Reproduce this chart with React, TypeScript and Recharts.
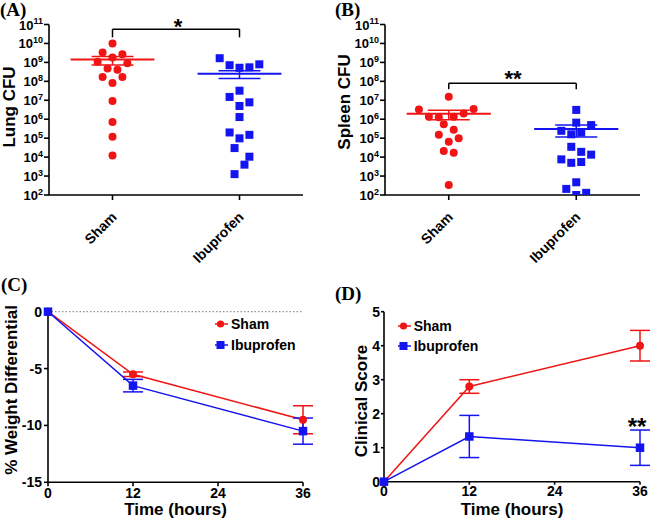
import {
  ScatterChart,
  Scatter,
  LineChart,
  Line,
  XAxis,
  YAxis,
  ReferenceLine,
  ErrorBar,
  Legend,
} from "recharts"

const RED = "#f01414"
const BLUE = "#1414f0"
const FONT = "'Liberation Sans', Arial, Helvetica, sans-serif"

const groups = ["Sham", "Ibuprofen"]

// (A) lung CFU, one value per mouse; spread = column offset used by the dot plot
const lungSham = [1e10, 3.3e9, 2.7e9, 1.8e9, 1.07e9, 8.9e8, 4.8e8, 4.1e8, 1.7e8, 1.7e8, 8.1e7, 9.1e6, 7.1e5, 1.2e5, 1.2e4]
const lungShamSpread = [0, -2, 2, 0, -3, 3, -1, 1, -2, 2, 0, 0, 0, 0, 0]
const lungIbu = [1.66e9, 7.1e8, 5.2e8, 5.5e8, 7.9e8, 3.2e7, 1.5e7, 7.8e6, 5e6, 1.3e6, 2e5, 9.8e4, 1.5e5, 3e4, 1.05e4, 4e3, 1.26e3]
const lungIbuSpread = [-4, -2, 0, 2, 4, 0, -2, 2, 0, 0, -2, 0, 2, -1, 2, 1, -1]

// (B) spleen CFU
const spleenSham = [1.55e7, 3.3e6, 3.5e6, 1.35e6, 1.26e6, 1.35e6, 2e6, 5.4e5, 2.8e5, 1.5e5, 9.8e4, 6.5e4, 2.1e4, 1.7e4, 340]
const spleenShamSpread = [0, -6, 5, -4, -2, 1, 3, -1, 1, -2, 2, 0, -1, 1, 0]
const spleenIbu = [3.1e6, 6.6e5, 4.9e5, 2.45e5, 1.6e5, 2e5, 3.5e4, 1.9e4, 1.35e4, 7.6e3, 5e3, 5.5e3, 470, 210, 130, 100]
const spleenIbuSpread = [0, 0, 3, -3, -1, 1, -1, 1, 3, -3, -1, 1, 0, -2, 2, 0]

const cfuTicks = [1e2, 1e3, 1e4, 1e5, 1e6, 1e7, 1e8, 1e9, 1e10, 1e11]

// (C) weight change and (D) clinical score, mean +/- SEM
const hours = [0, 12, 36]
const hourTicks = [0, 12, 24, 36]
const weightSham = [0, -5.5, -9.5]
const weightShamErr = [0, 0.2, 1.23]
const weightIbu = [0, -6.5, -10.5]
const weightIbuErr = [0, 0.55, 1.15]
const scoreSham = [0, 2.8, 4.0]
const scoreShamErr = [0, 0.2, 0.45]
const scoreIbu = [0, 1.33, 1.0]
const scoreIbuErr = [0, 0.62, 0.52]

const LANE = 0.039

const mean = (a: number[]) => a.reduce((s, v) => s + v, 0) / a.length
const sem = (a: number[]) => {
  const m = mean(a)
  const sd = Math.sqrt(a.reduce((s, v) => s + (v - m) ** 2, 0) / (a.length - 1))
  return sd / Math.sqrt(a.length)
}

const toPoints = (values: number[], spread: number[], g: number) =>
  values.map((v, i) => ({ x: g + 0.5 + spread[i] * LANE, y: v }))

const axisStyle = { stroke: "#000", strokeWidth: 1.6 }

const PowerTick = ({ x, y, payload }: any) => (
  <text x={x} y={y + 5} textAnchor="end" fontSize={13} fontWeight="bold" fontFamily={FONT} fill="#000">
    10
    <tspan dy={-5.5} fontSize={9}>
      {Math.round(Math.log10(payload.value))}
    </tspan>
  </text>
)

const GroupTick = ({ x, y, payload }: any) => (
  <text
    transform={`translate(${x + 5},${y + 16}) rotate(-45)`}
    textAnchor="end"
    fontSize={14}
    fontWeight="bold"
    fontFamily={FONT}
    fill="#000"
  >
    {groups[Math.floor(payload.value)]}
  </text>
)

function semLines(values: number[], g: number, color: string) {
  const m = mean(values)
  const s = sem(values)
  const c = g + 0.5
  return [
    <ReferenceLine key={`m${g}`} segment={[{ x: c - 0.33, y: m }, { x: c + 0.33, y: m }]} stroke={color} strokeWidth={2} />,
    <ReferenceLine key={`u${g}`} segment={[{ x: c - 0.165, y: m + s }, { x: c + 0.165, y: m + s }]} stroke={color} strokeWidth={1.5} />,
    <ReferenceLine key={`l${g}`} segment={[{ x: c - 0.165, y: m - s }, { x: c + 0.165, y: m - s }]} stroke={color} strokeWidth={1.5} />,
    <ReferenceLine key={`v${g}`} segment={[{ x: c, y: m - s }, { x: c, y: m + s }]} stroke={color} strokeWidth={1.5} />,
  ]
}

function bracket(top: number, foot: number) {
  return [
    <ReferenceLine key="bt" segment={[{ x: 0.5, y: top }, { x: 1.5, y: top }]} stroke="#000" strokeWidth={1.5} />,
    <ReferenceLine key="bl" segment={[{ x: 0.5, y: top }, { x: 0.5, y: foot }]} stroke="#000" strokeWidth={1.5} />,
    <ReferenceLine key="br" segment={[{ x: 1.5, y: top }, { x: 1.5, y: foot }]} stroke="#000" strokeWidth={1.5} />,
  ]
}

interface CfuProps {
  sham: number[]
  shamSpread: number[]
  ibu: number[]
  ibuSpread: number[]
  bracketTop: number
  bracketFoot: number
  width: number
  right: number
}

function CfuPlot({ sham, shamSpread, ibu, ibuSpread, bracketTop, bracketFoot, width, right }: CfuProps) {
  return (
    <ScatterChart width={width} height={270} margin={{ top: 24.5, right, bottom: 0, left: 0 }}>
      <XAxis
        type="number"
        dataKey="x"
        domain={[0, 2]}
        ticks={[0.5, 1.5]}
        interval={0}
        height={75}
        axisLine={axisStyle}
        tickLine={axisStyle}
        tickSize={5}
        tick={<GroupTick />}
      />
      <YAxis
        type="number"
        dataKey="y"
        scale="log"
        domain={[1e2, 1e11]}
        ticks={cfuTicks}
        interval={0}
        allowDataOverflow
        width={49}
        axisLine={axisStyle}
        tickLine={axisStyle}
        tickSize={5}
        tickMargin={1}
        tick={<PowerTick />}
      />
      <Scatter
        data={toPoints(sham, shamSpread, 0)}
        isAnimationActive={false}
        shape={(p: any) => <circle cx={p.cx} cy={p.cy} r={4} fill={RED} />}
      />
      <Scatter
        data={toPoints(ibu, ibuSpread, 1)}
        isAnimationActive={false}
        shape={(p: any) => <rect x={p.cx - 4} y={p.cy - 4} width={8} height={8} fill={BLUE} />}
      />
      {semLines(sham, 0, RED)}
      {semLines(ibu, 1, BLUE)}
      {bracket(bracketTop, bracketFoot)}
    </ScatterChart>
  )
}

const SeriesLegend = () => (
  <div style={{ fontFamily: FONT, fontWeight: "bold", fontSize: 14, lineHeight: "20.5px", color: "#000" }}>
    <div style={{ display: "flex", alignItems: "center" }}>
      <svg width={16} height={20}>
        <line x1={0} y1={10} x2={13} y2={10} stroke={RED} strokeWidth={1.5} />
        <circle cx={5.5} cy={10} r={3.6} fill={RED} />
      </svg>
      <span>Sham</span>
    </div>
    <div style={{ display: "flex", alignItems: "center" }}>
      <svg width={16} height={20}>
        <line x1={0} y1={10} x2={13} y2={10} stroke={BLUE} strokeWidth={1.5} />
        <rect x={1.5} y={6} width={8} height={8} fill={BLUE} />
      </svg>
      <span>Ibuprofen</span>
    </div>
  </div>
)

const shamDot = (p: any) => <circle key={`s${p.index}`} cx={p.cx} cy={p.cy} r={4} fill={RED} />
const ibuDot = (p: any) => <rect key={`i${p.index}`} x={p.cx - 4.25} y={p.cy - 4.25} width={8.5} height={8.5} fill={BLUE} />

const weightRows = hours.map((h, i) => ({
  h,
  sham: weightSham[i],
  shamErr: weightShamErr[i],
  ibu: weightIbu[i],
  ibuErr: weightIbuErr[i],
}))

const scoreRows = hours.map((h, i) => ({
  h,
  sham: scoreSham[i],
  shamErr: scoreShamErr[i],
  ibu: scoreIbu[i],
  ibuErr: scoreIbuErr[i],
}))

const tickFont = { fill: "#000", fontSize: 14, fontWeight: "bold", fontFamily: FONT }

const label = { fontFamily: FONT, fontWeight: "bold", fontSize: 17, fill: "#000" } as const
const panelTag = { fontFamily: "'Liberation Serif', 'Times New Roman', serif", fontWeight: "bold", fontSize: 19, fill: "#000" } as const
const star = { fontFamily: FONT, fontWeight: "bold", fontSize: 22, fill: "#000", textAnchor: "middle" } as const

export default function App() {
  return (
    <div style={{ position: "absolute", left: 0, top: 0, width: 650, height: 525, background: "#fff", overflow: "hidden" }}>
      <div style={{ position: "absolute", left: 0, top: 0 }}>
        <CfuPlot
          sham={lungSham}
          shamSpread={lungShamSpread}
          ibu={lungIbu}
          ibuSpread={lungIbuSpread}
          bracketTop={5.6e10}
          bracketFoot={2.1e10}
          width={320}
          right={17}
        />
      </div>
      <div style={{ position: "absolute", left: 336, top: 0 }}>
        <CfuPlot
          sham={spleenSham}
          shamSpread={spleenShamSpread}
          ibu={spleenIbu}
          ibuSpread={spleenIbuSpread}
          bracketTop={7.9e7}
          bracketFoot={3.8e7}
          width={314}
          right={10}
        />
      </div>

      <div style={{ position: "absolute", left: 0, top: 270 }}>
        <LineChart width={320} height={255} data={weightRows} margin={{ top: 41.7, right: 17, bottom: 0, left: 0 }}>
          <XAxis
            type="number"
            dataKey="h"
            domain={[0, 36]}
            ticks={hourTicks}
            interval={0}
            height={42.7}
            axisLine={axisStyle}
            tickLine={axisStyle}
            tickSize={4}
            tickMargin={2}
            tick={tickFont}
          />
          <YAxis
            type="number"
            domain={[-15, 0]}
            ticks={[-15, -10, -5, 0]}
            interval={0}
            width={48}
            axisLine={axisStyle}
            tickLine={axisStyle}
            tickSize={4}
            tickMargin={2}
            tick={tickFont}
          />
          <ReferenceLine y={0} stroke="#777" strokeDasharray="1.5 2" strokeWidth={1} />
          <Legend
            layout="vertical"
            align="center"
            verticalAlign="middle"
            content={<SeriesLegend />}
            wrapperStyle={{ left: 215, top: 44, width: "auto" }}
          />
          <Line dataKey="sham" stroke={RED} strokeWidth={1.5} dot={shamDot} isAnimationActive={false}>
            <ErrorBar dataKey="shamErr" direction="y" width={10} stroke={RED} strokeWidth={1.5} />
          </Line>
          <Line dataKey="ibu" stroke={BLUE} strokeWidth={1.5} dot={ibuDot} isAnimationActive={false}>
            <ErrorBar dataKey="ibuErr" direction="y" width={10} stroke={BLUE} strokeWidth={1.5} />
          </Line>
        </LineChart>
      </div>

      <div style={{ position: "absolute", left: 336, top: 270 }}>
        <LineChart width={314} height={255} data={scoreRows} margin={{ top: 41.7, right: 10, bottom: 0, left: 0 }}>
          <XAxis
            type="number"
            dataKey="h"
            domain={[0, 36]}
            ticks={hourTicks}
            interval={0}
            height={43.3}
            axisLine={axisStyle}
            tickLine={axisStyle}
            tickSize={3}
            tickMargin={1}
            tick={tickFont}
          />
          <YAxis
            type="number"
            domain={[0, 5]}
            ticks={[0, 1, 2, 3, 4, 5]}
            interval={0}
            width={48}
            axisLine={axisStyle}
            tickLine={axisStyle}
            tickSize={3}
            tickMargin={1}
            tick={tickFont}
          />
          <Legend
            layout="vertical"
            align="center"
            verticalAlign="middle"
            content={<SeriesLegend />}
            wrapperStyle={{ left: 61.7, top: 45.7, width: "auto" }}
          />
          <Line dataKey="sham" stroke={RED} strokeWidth={1.5} dot={shamDot} isAnimationActive={false}>
            <ErrorBar dataKey="shamErr" direction="y" width={10} stroke={RED} strokeWidth={1.5} />
          </Line>
          <Line dataKey="ibu" stroke={BLUE} strokeWidth={1.5} dot={ibuDot} isAnimationActive={false}>
            <ErrorBar dataKey="ibuErr" direction="y" width={10} stroke={BLUE} strokeWidth={1.5} />
          </Line>
        </LineChart>
      </div>

      <svg width={650} height={525} style={{ position: "absolute", left: 0, top: 0, pointerEvents: "none" }}>
        <text x={0} y={16} {...panelTag}>(A)</text>
        <text x={335} y={16} {...panelTag}>(B)</text>
        <text x={1} y={291} {...panelTag}>(C)</text>
        <text x={335} y={300} {...panelTag}>(D)</text>

        <text transform="translate(15,107) rotate(-90)" textAnchor="middle" {...label}>Lung CFU</text>
        <text transform="translate(350,102) rotate(-90)" textAnchor="middle" {...label}>Spleen CFU</text>
        <text transform="translate(17,390) rotate(-90)" textAnchor="middle" {...label}>% Weight Differential</text>
        <text transform="translate(367,401) rotate(-90)" textAnchor="middle" {...label}>Clinical  Score</text>
        <text x={175.5} y={515} textAnchor="middle" {...label}>Time (hours)</text>
        <text x={512} y={515} textAnchor="middle" {...label}>Time (hours)</text>

        <text x={178} y={34} {...star}>*</text>
        <text x={513} y={86} {...star}>**</text>
        <text x={637} y={435} {...star} fontSize={24}>**</text>
      </svg>
    </div>
  )
}
